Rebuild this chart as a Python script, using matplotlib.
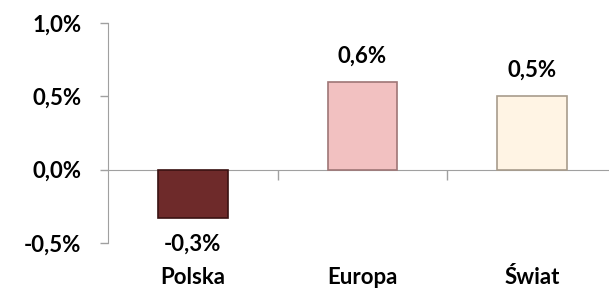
import matplotlib.pyplot as plt
from matplotlib.ticker import FixedLocator
from matplotlib.transforms import ScaledTranslation

# Data
regions = ['Polska', 'Europa', 'Świat']
changes = [-0.33, 0.60, 0.50]
value_labels = ['-0,3%', '0,6%', '0,5%']
bar_colors = ['#6E2A2A', '#F2C1C1', '#FFF4E4']
edge_colors = ['#3A1212', '#9E7676', '#A89C8C']
y_ticks = [-0.5, 0.0, 0.5, 1.0]
y_tick_labels = ['-0,5%', '0,0%', '0,5%', '1,0%']

plt.rcParams['font.family'] = ['Lato', 'DejaVu Sans']
FS = 16

fig = plt.figure(figsize=(6.09, 2.88), dpi=100)
# axes span: x 108..617 px, y 23..243 px
ax = fig.add_axes([108 / 609, (288 - 243) / 288, 509 / 609, 220 / 288])

x = range(len(regions))
bars = ax.bar(x, changes, width=0.41, color=bar_colors,
              edgecolor=edge_colors, linewidth=1.2, zorder=3)

ax.set_xlim(-0.5, len(regions) - 0.5)
ax.set_ylim(-0.5, 1.0)

# y axis
ax.set_yticks(y_ticks)
ax.set_yticklabels(y_tick_labels, fontsize=FS, fontweight='bold')
ax.tick_params(axis='y', length=6, width=1, color='#A0A0A0', pad=13)

# x axis crossing at zero, category labels at the bottom
ax.spines['top'].set_visible(False)
ax.spines['right'].set_visible(False)
ax.spines['bottom'].set_position(('data', 0))
ax.spines['bottom'].set_color('#A0A0A0')
ax.spines['left'].set_color('#A0A0A0')
ax.set_xticks(list(x))
ax.set_xticklabels([])
ax.tick_params(axis='x', which='major', length=0)
ax.xaxis.set_minor_locator(FixedLocator([0.5, 1.5]))
ax.tick_params(axis='x', which='minor', length=7, width=1, color='#A0A0A0')

shift = ax.transData + ScaledTranslation(0, -24.5 / 100, fig.dpi_scale_trans)
for i, name in enumerate(regions):
    ax.text(i, -0.5, name, transform=shift, ha='center', va='top',
            fontsize=FS, fontweight='bold')

# value labels
for bar, lab, val in zip(bars, value_labels, changes):
    xc = bar.get_x() + bar.get_width() / 2
    off = 18.5 if val >= 0 else -19
    ax.annotate(lab, (xc, val), xytext=(0, off), textcoords='offset points',
                ha='center', va='center', fontsize=FS, fontweight='bold')

fig.savefig('out.png', dpi=100)
